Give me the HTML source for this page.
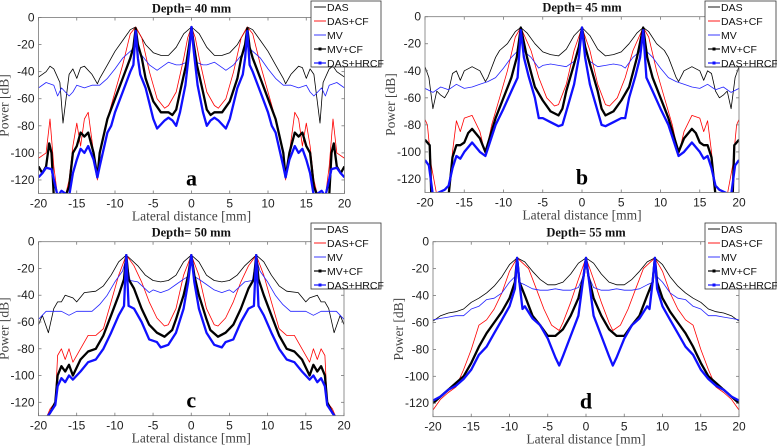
<!DOCTYPE html>
<html><head><meta charset="utf-8"><style>
body{margin:0;background:#fff;}
svg{display:block;}
.sans{font-family:"Liberation Sans",sans-serif;}
.serif{font-family:"Liberation Serif",serif;}
</style></head><body>
<svg id="fig" width="777" height="448" viewBox="0 0 777 448" xmlns="http://www.w3.org/2000/svg"></svg>
<script>
// Half-profiles (x >= 0), mirrored for x < 0. Values in dB.
const a_das=[[0,-7],[1,-12],[2,-22],[3,-28],[4,-28],[5,-26],[6,-20],[7,-10],[7.3,-7],[8,-9],[9,-17],[10,-25],[11,-35],[12,-45],[12.3,-49],[13,-42],[14,-36],[14.5,-37],[15,-45],[15.5,-38],[16,-42],[16.8,-78],[17.2,-48],[18,-38],[18.5,-36],[19,-40],[20,-44]];
const a_cf=[[0,-7],[0.5,-15],[1,-30],[2,-55],[3,-65],[3.5,-67],[4.5,-60],[5.5,-40],[6.5,-15],[7.3,-7],[8,-12],[9,-35],[10,-55],[11,-75],[12,-100],[12.3,-120],[12.8,-100],[13.5,-70],[14,-75],[14.5,-95],[15,-78],[15.5,-95],[16,-120],[16.5,-132],[17.5,-132],[18,-110],[18.5,-75],[19,-100],[20,-104]];
const a_mv=[[0,-7],[0.3,-20],[0.6,-33],[1.5,-35],[2,-35],[3,-33],[4,-37],[4.5,-39],[5.5,-35],[6.5,-28],[7,-23],[7.3,-12],[7.6,-23],[8,-25],[9,-30],[10,-38],[11,-45],[12,-50],[13,-50],[14,-52],[15,-50],[15.5,-55],[16,-58],[17,-52],[17.5,-58],[18,-50],[19,-48],[20,-52]];
const a_mvcf=[[0,-7],[0.3,-20],[0.7,-35],[1.5,-55],[2,-68],[2.5,-72],[3,-70],[4,-70],[5,-62],[6,-45],[6.5,-30],[7,-20],[7.3,-8],[7.6,-22],[8,-30],[9,-45],[10,-60],[11,-75],[12,-100],[12.3,-118],[12.8,-100],[13.5,-85],[14,-88],[14.5,-85],[15,-95],[15.5,-100],[16,-125],[16.5,-132],[18,-132],[18.3,-100],[18.6,-93],[19,-110],[19.5,-115],[20,-110]];
const a_hrcf=[[0,-7],[0.3,-25],[0.8,-50],[1.5,-70],[2,-80],[2.5,-76],[3,-74],[3.5,-76],[4.5,-82],[5,-75],[6,-52],[6.7,-42],[7,-30],[7.3,-10],[7.6,-35],[8,-40],[9,-55],[10,-70],[10.5,-80],[11,-85],[12,-110],[12.3,-118],[12.8,-105],[13.5,-95],[14,-100],[14.5,-97],[15,-105],[15.5,-115],[16,-132],[17,-128],[17.5,-132],[18.3,-112],[19,-111],[19.5,-115],[20,-118]];

const b_das=[[0,-8],[1,-14],[2,-24],[3,-29],[4,-28],[5,-26],[6,-20],[7,-12],[7.8,-8],[8.5,-11],[9.5,-20],[10.5,-25],[11,-30],[12,-45],[12.3,-48],[13,-40],[14,-37],[15,-40],[15.5,-47],[16,-40],[16.5,-42],[17,-55],[17.5,-60],[18,-58],[18.5,-55],[19,-68],[19.5,-45],[20,-37]];
const b_cf=[[0,-8],[1,-25],[2,-50],[3,-65],[3.5,-66],[4.5,-60],[5.5,-45],[6.5,-25],[7.8,-8],[8.5,-15],[9.5,-40],[10.5,-60],[11.5,-80],[12.3,-102],[13,-85],[14,-73],[15,-75],[15.5,-85],[16,-77],[16.5,-100],[17,-132],[18.5,-132],[19.2,-110],[19.7,-80],[20,-76]];
const b_mv=[[0,-8],[0.4,-25],[1,-33],[2,-37],[3,-36],[4,-35],[5,-36],[5.5,-38],[6.5,-30],[7.3,-26],[7.8,-10],[8.3,-26],[9,-30],[10,-38],[11,-45],[12,-48],[13,-50],[14,-52],[15,-53],[16,-50],[17,-54],[18,-52],[19,-56],[20,-53]];
const b_mvcf=[[0,-8],[0.4,-22],[1,-35],[2,-55],[2.5,-68],[3,-73],[4,-70],[5,-62],[6,-52],[7,-30],[7.8,-8],[8.3,-30],[9,-45],[10,-60],[11,-75],[12.3,-100],[13,-90],[14,-83],[14.5,-86],[15,-93],[15.5,-95],[16,-95],[16.5,-104],[17,-132],[19.2,-132],[19.4,-95],[20,-91]];
const b_hrcf=[[0,-8],[0.4,-30],[1,-50],[2,-70],[2.5,-80],[3,-81],[4,-78],[5,-75],[5.5,-75],[6,-60],[6.8,-44],[7.4,-30],[7.8,-10],[8.2,-45],[9,-55],[10,-68],[11,-80],[12.3,-103],[13,-100],[14,-93],[15,-100],[15.5,-105],[16,-103],[16.5,-112],[17,-125],[17.5,-128],[19,-132],[19.5,-110],[20,-106]];

const c_das=[[0,-10],[1,-15],[2,-25],[3,-29],[4,-30],[5,-29],[6,-25],[7,-18],[8.5,-10],[9.5,-15],[10.5,-25],[11.5,-33],[12.5,-37],[14,-38],[15,-45],[15.5,-42],[16.5,-40],[17,-45],[17.5,-45],[18,-50],[18.7,-68],[19.5,-55],[20,-62]];
const c_cf=[[0,-10],[1,-25],[2,-50],[3,-62],[3.5,-63],[4.5,-57],[5.5,-45],[6.5,-30],[7.5,-18],[8.5,-10],[9.5,-25],[10.5,-45],[11.5,-65],[12.5,-70],[13.5,-70],[14.5,-80],[15.5,-90],[16,-80],[16.5,-88],[17,-80],[17.5,-85],[17.8,-120],[18.5,-125],[19,-132],[20,-132]];
const c_mv=[[0,-10],[0.4,-26],[1,-28],[2,-32],[3,-36],[4,-38],[5,-36],[5.5,-38],[7,-30],[8,-29],[8.5,-12],[9,-22],[10,-30],[11,-40],[12,-47],[13,-52],[14,-52],[15,-52],[16,-55],[17,-52],[18,-52],[19,-52],[20,-58]];
const c_mvcf=[[0,-10],[0.4,-25],[1,-40],[2,-58],[2.5,-66],[3.5,-71],[4.5,-68],[5.5,-62],[6.5,-50],[7.5,-35],[8.2,-28],[8.5,-10],[8.8,-28],[9.5,-40],[10.5,-55],[11.5,-70],[12.5,-80],[13.5,-82],[14.5,-88],[15.5,-100],[16,-92],[16.5,-97],[17,-93],[17.5,-100],[17.8,-120],[18.5,-128],[19,-132]];
const c_hrcf=[[0,-10],[0.4,-30],[1,-50],[2,-68],[3,-77],[3.5,-78],[4,-79],[4.5,-75],[5.5,-73],[6.5,-60],[7.5,-50],[8.2,-48],[8.5,-10],[8.8,-48],[9.5,-55],[10.5,-68],[11.5,-80],[12.5,-88],[13.5,-90],[14.5,-97],[15.5,-103],[16,-100],[16.5,-105],[17,-102],[17.5,-108],[17.8,-122],[18.5,-128],[19,-132]];

const d_das=[[0,-12],[1,-16],[2,-24],[3,-30],[4,-32],[5,-32],[6,-28],[7,-22],[8,-15],[9,-12],[10,-17],[11,-26],[12,-33],[13,-38],[14,-42],[15,-45],[16,-50],[17,-52],[18,-53],[19,-55],[20,-59]];
const d_cf=[[0,-12],[1,-28],[2,-45],[3,-60],[3.5,-66],[4.5,-62],[5.5,-50],[6.5,-35],[7.5,-20],[9,-12],[10,-22],[11,-38],[12,-50],[13,-58],[14,-62],[15,-80],[16,-95],[17,-108],[18,-112],[19,-117],[20,-125]];
const d_mv=[[0,-12],[0.3,-25],[1,-34],[2,-36],[3,-36],[4,-35],[5,-36],[6,-36],[7,-35],[8,-32],[8.8,-30],[9,-12],[9.3,-26],[10,-30],[11,-38],[12,-42],[13,-43],[14,-48],[15,-50],[16,-55],[17,-55],[18,-56],[19,-57],[20,-58]];
const d_mvcf=[[0,-12],[0.3,-25],[1,-42],[2,-55],[3,-65],[4,-70],[5,-70],[6,-62],[7,-55],[8,-40],[8.7,-30],[9,-12],[9.3,-30],[10,-42],[11,-52],[12,-60],[13,-68],[14,-78],[15,-90],[16,-100],[17,-105],[18,-110],[19,-115],[20,-120]];
const d_hrcf=[[0,-12],[0.3,-25],[1,-55],[2,-70],[3,-85],[3.5,-92],[4,-86],[5,-72],[6,-62],[7,-57],[8,-48],[8.3,-50],[8.7,-30],[9,-12],[9.3,-35],[10,-48],[11,-58],[12,-68],[13,-78],[14,-84],[15,-95],[16,-102],[17,-107],[18,-110],[19,-115],[20,-118]];

const xTicks=[-20,-15,-10,-5,0,5,10,15,20];
const yTicks=[0,-20,-40,-60,-80,-100,-120];
const seriesNames=["DAS","DAS+CF","MV","MV+CF","DAS+HRCF"];
const titles=["Depth= 40 mm","Depth= 45 mm","Depth= 50 mm","Depth= 55 mm"];
const letters=["a","b","c","d"];

const NS="http://www.w3.org/2000/svg";
const svg=document.getElementById('fig');
function mk(tag,attrs,parent){const e=document.createElementNS(NS,tag);for(const k in attrs)e.setAttribute(k,attrs[k]);(parent||svg).appendChild(e);return e;}

const panels=[
 {L:38.5,R:344.5,T:17.5,B:193.5,data:[a_das,a_cf,a_mv,a_mvcf,a_hrcf],lg:[311,1,70]},
 {L:425,R:739,T:16.7,B:192.5,data:[b_das,b_cf,b_mv,b_mvcf,b_hrcf],lg:[705,1,71]},
 {L:38.5,R:344,T:241.7,B:415.7,data:[c_das,c_cf,c_mv,c_mvcf,c_hrcf],lg:[311,223,70]},
 {L:433,R:739,T:241.7,B:416.7,data:[d_das,d_cf,d_mv,d_mvcf,d_hrcf],lg:[705,223,71]}
];
const colors=["#000","#f00","#22f","#000","#1010ff"];
const widths=[0.8,0.8,0.8,2.3,2.3];

panels.forEach((p,pi)=>{
 const g=mk('g',{});
 
 
 const sx=v=>p.L+(v+20)/40*(p.R-p.L);
 const sy=v=>p.T+(-v)/130*(p.B-p.T);
 const cid='clip'+pi;
 const cp=mk('clipPath',{id:cid},g);mk('rect',{x:p.L,y:p.T,width:p.R-p.L,height:p.B-p.T},cp);
 p.data.forEach((half,si)=>{
  const pts=[];
  for(let i=half.length-1;i>0;i--)pts.push([-half[i][0],half[i][1]]);
  half.forEach(q=>pts.push(q));
  const d=pts.map((q,i)=>(i?'L':'M')+sx(q[0]).toFixed(1)+','+sy(q[1]).toFixed(1)).join('');
  const path=mk('path',{d:d,fill:'none',stroke:colors[si],'stroke-width':widths[si],'stroke-linejoin':'round','clip-path':'url(#'+cid+')'},g);
  
  
 });
 const box=mk('rect',{x:p.L,y:p.T,width:p.R-p.L,height:p.B-p.T,fill:'none',stroke:'#777','stroke-width':0.8},g);
 
 
 xTicks.forEach(t=>{
  const x=sx(t);
  mk('line',{x1:x,x2:x,y1:p.B,y2:p.B-3,stroke:'#777','stroke-width':0.8},g);
  mk('line',{x1:x,x2:x,y1:p.T,y2:p.T+3,stroke:'#777','stroke-width':0.8},g);
  const tx=mk('text',{x:x,y:p.B+14,'text-anchor':'middle','font-size':12,fill:'#222','class':'sans'},g);
  tx.textContent=t;
  
  
 });
 yTicks.forEach(t=>{
  const y=sy(t);
  mk('line',{x1:p.L,x2:p.L+3,y1:y,y2:y,stroke:'#777','stroke-width':0.8},g);
  mk('line',{x1:p.R,x2:p.R-3,y1:y,y2:y,stroke:'#777','stroke-width':0.8},g);
  const ty=mk('text',{x:p.L-4,y:y+4,'text-anchor':'end','font-size':12,fill:'#222','class':'sans'},g);
  ty.textContent=t;
  
  
 });
 const xl=mk('text',{x:(p.L+p.R)/2,y:p.B+27,'text-anchor':'middle','font-size':13.5,fill:'#444','class':'serif'},g);
 xl.textContent='Lateral distance [mm]';
 
 
 const yx=p.L-30,yy=(p.T+p.B)/2;
 const yl=mk('text',{x:yx,y:yy,'text-anchor':'middle','font-size':13.5,fill:'#444','class':'serif',transform:'rotate(-90 '+yx+' '+yy+')'},g);
 yl.textContent='Power [dB]';
 
 
 const tt=mk('text',{x:(p.L+p.R)/2,y:p.T-5,'text-anchor':'middle','font-size':12.5,'font-weight':'bold',fill:'#111','class':'serif'},g);
 tt.textContent=titles[pi];
 
 
 const lt=mk('text',{x:(p.L+p.R)/2,y:p.B-8,'text-anchor':'middle','font-size':22,'font-weight':'bold',fill:'#000','class':'serif'},g);
 lt.textContent=letters[pi];
 
 
 const lx=p.lg[0],ly=p.lg[1],lw=p.lg[2];
 const lg=mk('g',{},g);
 
 
 mk('rect',{x:lx,y:ly,width:lw,height:66,fill:'#fff',stroke:'#333','stroke-width':0.8},lg);
 seriesNames.forEach((n,si)=>{
  const ey=ly+6+si*14;
  const ent=mk('g',{},lg);
  
  
  mk('line',{x1:lx+3,x2:lx+15,y1:ey,y2:ey,stroke:colors[si],'stroke-width':si>=3?1.2:0.9},ent);
  if(si>=3)mk('rect',{x:lx+7.5,y:ey-1.5,width:3,height:3,fill:colors[si]},ent);
  const et=mk('text',{x:lx+16,y:ey+4,'font-size':10.5,fill:'#111','class':'sans'},ent);
  et.textContent=n;
 });
});
</script>
</body></html>
